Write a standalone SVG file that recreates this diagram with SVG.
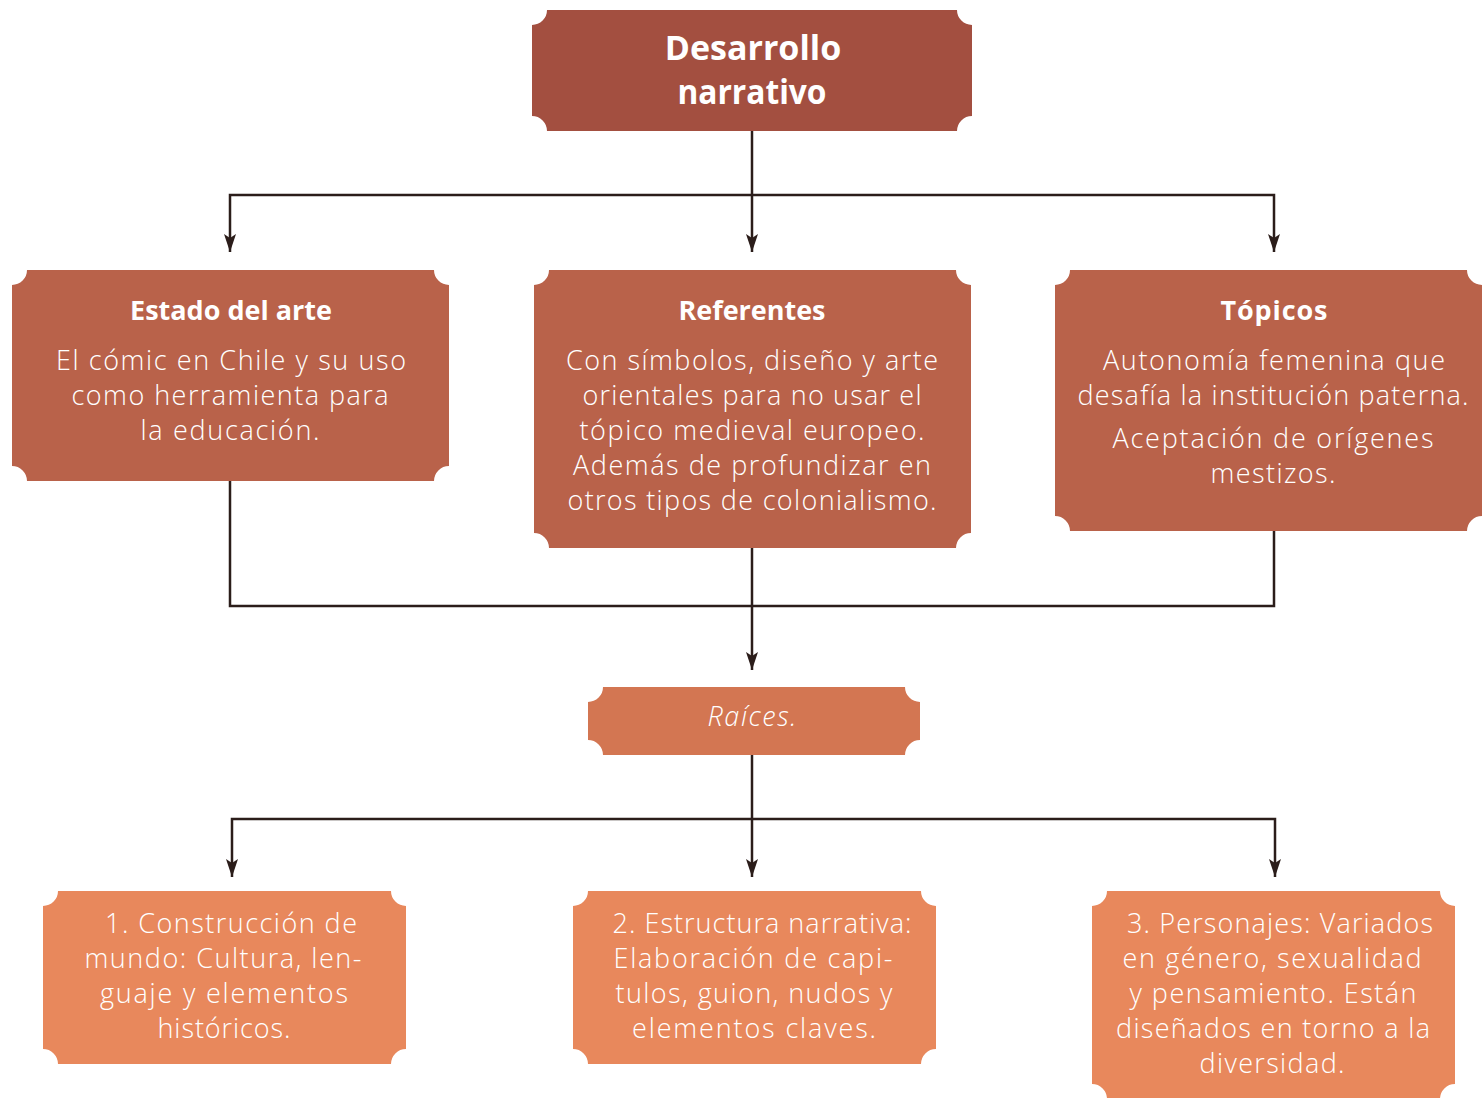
<svg xmlns="http://www.w3.org/2000/svg" width="1482" height="1098" viewBox="0 0 1482 1098">
<defs>
<style>
.t{font-family:"Open Sans","Liberation Sans",sans-serif;fill:#fff;text-anchor:middle;font-size:27px;font-weight:300}
.h{font-weight:700;font-size:27px}
.big{font-weight:700;font-size:34px}
.c{fill:none;stroke:#2B1D1A;stroke-width:2.5}
.n1{fill:#A34F40}.n2{fill:#B9624A}.n3{fill:#D37652}.n4{fill:#E8885C}
</style>
</defs>
<g id="connectors">
<path class="c" d="M752,131 V252"/>
<path class="c" d="M230,252 V195 H1274 V252"/>
<path class="c" d="M230,481 V606 H1274 V531"/>
<path class="c" d="M752,548 V670"/>
<path class="c" d="M752,755 V877"/>
<path class="c" d="M232,877 V819 H1275 V877"/>
<g fill="#2B1D1A">
<path d="M224,234 L230,238 L236,234 L230,252 Z"/>
<path d="M746,234 L752,238 L758,234 L752,252 Z"/>
<path d="M1268,234 L1274,238 L1280,234 L1274,252 Z"/>
<path d="M746,652 L752,656 L758,652 L752,670 Z"/>
<path d="M226,859 L232,863 L238,859 L232,877 Z"/>
<path d="M746,859 L752,863 L758,859 L752,877 Z"/>
<path d="M1269,859 L1275,863 L1281,859 L1275,877 Z"/>
</g>
</g>
<g id="desarrollo">
<path class="n1" d="M547,10 H957 A15,15 0 0 0 972,25 V116 A15,15 0 0 0 957,131 H547 A15,15 0 0 0 532,116 V25 A15,15 0 0 0 547,10 Z"/>
<text class="t big" x="753" y="60">Desarrollo</text>
<text class="t big" x="752" y="104" textLength="149" lengthAdjust="spacingAndGlyphs">narrativo</text>
</g>
<g id="estado">
<path class="n2" d="M27,270 H434 A15,15 0 0 0 449,285 V466 A15,15 0 0 0 434,481 H27 A15,15 0 0 0 12,466 V285 A15,15 0 0 0 27,270 Z"/>
<text class="t h" x="231" y="320" textLength="202">Estado del arte</text>
<text class="t" x="231" y="370" textLength="350">El cómic en Chile y su uso</text>
<text class="t" x="230" y="405" textLength="317">como herramienta para</text>
<text class="t" x="230" y="440" textLength="179">la educación.</text>
</g>
<g id="referentes">
<path class="n2" d="M549,270 H956 A15,15 0 0 0 971,285 V533 A15,15 0 0 0 956,548 H549 A15,15 0 0 0 534,533 V285 A15,15 0 0 0 549,270 Z"/>
<text class="t h" x="752" y="320" textLength="147">Referentes</text>
<text class="t" x="752" y="370" textLength="372">Con símbolos, diseño y arte</text>
<text class="t" x="752" y="405" textLength="339">orientales para no usar el</text>
<text class="t" x="752" y="440" textLength="345">tópico medieval europeo.</text>
<text class="t" x="752" y="475" textLength="358">Además de profundizar en</text>
<text class="t" x="752" y="510" textLength="369">otros tipos de colonialismo.</text>
</g>
<g id="topicos">
<path class="n2" d="M1070,270 H1467 A15,15 0 0 0 1482,285 V516 A15,15 0 0 0 1467,531 H1070 A15,15 0 0 0 1055,516 V285 A15,15 0 0 0 1070,270 Z"/>
<text class="t h" x="1274" y="320" textLength="107">Tópicos</text>
<text class="t" x="1274" y="370" textLength="342">Autonomía femenina que</text>
<text class="t" x="1273" y="405" textLength="391">desafía la institución paterna.</text>
<text class="t" x="1273" y="448" textLength="321">Aceptación de orígenes</text>
<text class="t" x="1273" y="483" textLength="125">mestizos.</text>
</g>
<g id="raices">
<path class="n3" d="M603,687 H905 A15,15 0 0 0 920,702 V740 A15,15 0 0 0 905,755 H603 A15,15 0 0 0 588,740 V702 A15,15 0 0 0 603,687 Z"/>
<text class="t" x="752" y="726" font-style="italic" textLength="89">Raíces.</text>
</g>
<g id="b1">
<path class="n4" d="M58,891 H391 A15,15 0 0 0 406,906 V1049 A15,15 0 0 0 391,1064 H58 A15,15 0 0 0 43,1049 V906 A15,15 0 0 0 58,891 Z"/>
<text class="t" x="231" y="933" textLength="252">1.  Construcción de</text>
<text class="t" x="223" y="968" textLength="277">mundo: Cultura, len-</text>
<text class="t" x="224" y="1003" textLength="248">guaje y elementos</text>
<text class="t" x="224" y="1038" textLength="133">históricos.</text>
</g>
<g id="b2">
<path class="n4" d="M588,891 H921 A15,15 0 0 0 936,906 V1049 A15,15 0 0 0 921,1064 H588 A15,15 0 0 0 573,1049 V906 A15,15 0 0 0 588,891 Z"/>
<text class="t" x="762" y="933" textLength="299">2. Estructura narrativa:</text>
<text class="t" x="753" y="968" textLength="279">Elaboración de capi-</text>
<text class="t" x="754" y="1003" textLength="277">tulos, guion, nudos y</text>
<text class="t" x="754" y="1038" textLength="244">elementos claves.</text>
</g>
<g id="b3">
<path class="n4" d="M1107,891 H1440 A15,15 0 0 0 1455,906 V1084 A15,15 0 0 0 1440,1099 H1107 A15,15 0 0 0 1092,1084 V906 A15,15 0 0 0 1107,891 Z"/>
<text class="t" x="1280" y="933" textLength="306">3. Personajes: Variados</text>
<text class="t" x="1272" y="968" textLength="299">en género, sexualidad</text>
<text class="t" x="1273" y="1003" textLength="287">y pensamiento. Están</text>
<text class="t" x="1273" y="1038" textLength="314">diseñados en torno a la</text>
<text class="t" x="1272" y="1073" textLength="145">diversidad.</text>
</g>
</svg>
